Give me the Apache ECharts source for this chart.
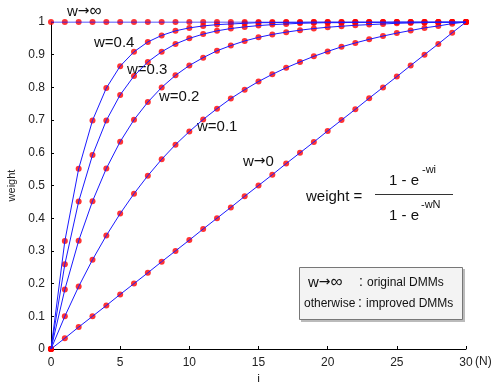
<!DOCTYPE html>
<html>
<head>
<meta charset="utf-8">
<script src="https://cdn.jsdelivr.net/npm/echarts@6/dist/echarts.min.js"></script>
<style>
  html, body { margin: 0; padding: 0; background: #fff; }
  #chart { width: 492px; height: 382px; }
</style>
</head>
<body>
<div id="chart"></div>
<script>
// i = 0..30 (N = 30)
const iValues = [0,1,2,3,4,5,6,7,8,9,10,11,12,13,14,15,16,17,18,19,20,21,22,23,24,25,26,27,28,29,30];

// weight values
const wInf = [1,1,1,1,1,1,1,1,1,1,1,1,1,1,1,1,1,1,1,1,1,1,1,1,1,1,1,1,1,1,1];
const w04 = [0,0.330,0.551,0.699,0.798,0.865,0.909,0.939,0.959,0.973,0.982,
  0.988,0.992,0.994,0.996,0.998,0.998,0.999,0.999,1,1,1,1,1,1,1,1,1,1,1,1];
const w03 = [0,0.259,0.451,0.593,0.699,0.777,0.835,0.878,0.909,0.933,0.950,
  0.963,0.973,0.980,0.985,0.989,0.992,0.994,0.996,0.997,0.998,
  0.998,0.999,0.999,0.999,1,1,1,1,1,1];
const w02 = [0,0.182,0.331,0.452,0.552,0.634,0.701,0.755,0.800,0.837,0.867,
  0.891,0.912,0.928,0.942,0.953,0.962,0.969,0.975,0.980,0.984,
  0.987,0.990,0.992,0.994,0.996,0.997,0.998,0.999,1,1];
const w01 = [0,0.100,0.191,0.273,0.347,0.414,0.475,0.530,0.580,0.625,0.665,
  0.702,0.735,0.766,0.793,0.818,0.840,0.860,0.878,0.895,0.910,
  0.924,0.936,0.947,0.957,0.966,0.974,0.982,0.988,0.995,1];
const w0 = [0,0.033,0.067,0.100,0.133,0.167,0.200,0.233,0.267,0.300,0.333,
  0.367,0.400,0.433,0.467,0.500,0.533,0.567,0.600,0.633,0.667,
  0.700,0.733,0.767,0.800,0.833,0.867,0.900,0.933,0.967,1];

const curves = [wInf, w04, w03, w02, w01, w0];
const pairs = (ys) => iValues.map((x, k) => [x, ys[k]]);

const font = "'Liberation Sans', Arial, sans-serif";
const textCol = "#222";

const chart = echarts.init(document.getElementById("chart"));

// red dots first, blue lines drawn over them
const dotSeries = curves.map((ys) => ({
  type: "scatter",
  data: pairs(ys),
  symbol: "circle",
  symbolSize: 6,
  itemStyle: { color: "#ff0000" },
  silent: true,
  z: 2,
}));
const lineSeries = curves.map((ys) => ({
  type: "line",
  data: pairs(ys),
  showSymbol: false,
  lineStyle: { color: "#1a1aff", width: 1 },
  silent: true,
  z: 3,
}));

const txt = (left, top, text, size, extra) => ({
  type: "text",
  left: left,
  top: top,
  style: Object.assign({ text: text, fill: "#111", font: size + "px " + font }, extra || {}),
});

// "w -> something" with the arrow drawn in DejaVu (longer arrow)
const wArrow = (left, top, tail, tailSize) => ({
  type: "text",
  left: left,
  top: top,
  style: {
    text: "{w|w}{a|\u2192}{n|" + tail + "}",
    rich: {
      w: { fontSize: 15, fontFamily: font, fill: "#111" },
      a: { fontSize: 14, fontFamily: "'DejaVu Sans', sans-serif", fill: "#111" },
      n: { fontSize: tailSize, fontFamily: font, fill: "#111" },
    },
  },
});

const option = {
  animation: false,
  grid: { left: 51, right: 26, top: 22, bottom: 33, containLabel: false, outerBoundsMode: "none" },
  xAxis: {
    type: "value",
    min: 0,
    max: 30,
    interval: 5,
    name: "i",
    nameLocation: "middle",
    nameGap: 19,
    nameTextStyle: { color: textCol, fontSize: 12, fontFamily: font },
    axisLine: { lineStyle: { color: "#000", width: 1 } },
    axisTick: { inside: true, length: 3, lineStyle: { color: "#000" } },
    axisLabel: { color: textCol, fontSize: 12, fontFamily: font, margin: 8 },
    splitLine: { show: false },
  },
  yAxis: {
    type: "value",
    min: 0,
    max: 1,
    interval: 0.1,
    name: "weight",
    nameLocation: "middle",
    nameGap: 33,
    nameTextStyle: { color: textCol, fontSize: 11, fontFamily: font },
    axisLine: { show: true, lineStyle: { color: "#000", width: 1 } },
    axisTick: { show: true, inside: true, length: 3, lineStyle: { color: "#000" } },
    axisLabel: { color: textCol, fontSize: 12, fontFamily: font, margin: 6 },
    splitLine: { show: false },
  },
  graphic: [
    txt(475, 356, "(N)", 12, { fill: textCol }),
    // curve labels
    wArrow(67, 3, "\u221e", 17),
    txt(94, 35, "w=0.4", 15),
    txt(127, 62, "w=0.3", 15),
    txt(159, 89, "w=0.2", 15),
    txt(197, 119, "w=0.1", 15),
    wArrow(243, 154, "0", 15),
    // formula
    txt(306, 189, "weight =", 15),
    txt(389, 173, "1 - e", 15),
    txt(422, 164, "-wi", 11),
    {
      type: "line",
      shape: { x1: 375, y1: 194.5, x2: 453, y2: 194.5 },
      style: { stroke: "#333", lineWidth: 1 },
    },
    txt(389, 208, "1 - e", 15),
    txt(421, 199, "-wN", 11),
    // note box
    {
      type: "rect",
      shape: { x: 301, y: 269, width: 164, height: 53 },
      style: { fill: "#bbb" },
    },
    {
      type: "rect",
      shape: { x: 299.5, y: 267.5, width: 163, height: 52 },
      style: { fill: "#f3f3f3", stroke: "#777", lineWidth: 1 },
    },
    wArrow(308, 274, "\u221e", 17),
    txt(359, 275, ":", 14),
    txt(367, 277, "original DMMs", 12),
    txt(304, 298, "otherwise", 12),
    txt(358, 296, ":", 14),
    txt(366, 298, "improved DMMs", 12),
  ],
  series: dotSeries.concat(lineSeries),
};

chart.setOption(option);
</script>
</body>
</html>
